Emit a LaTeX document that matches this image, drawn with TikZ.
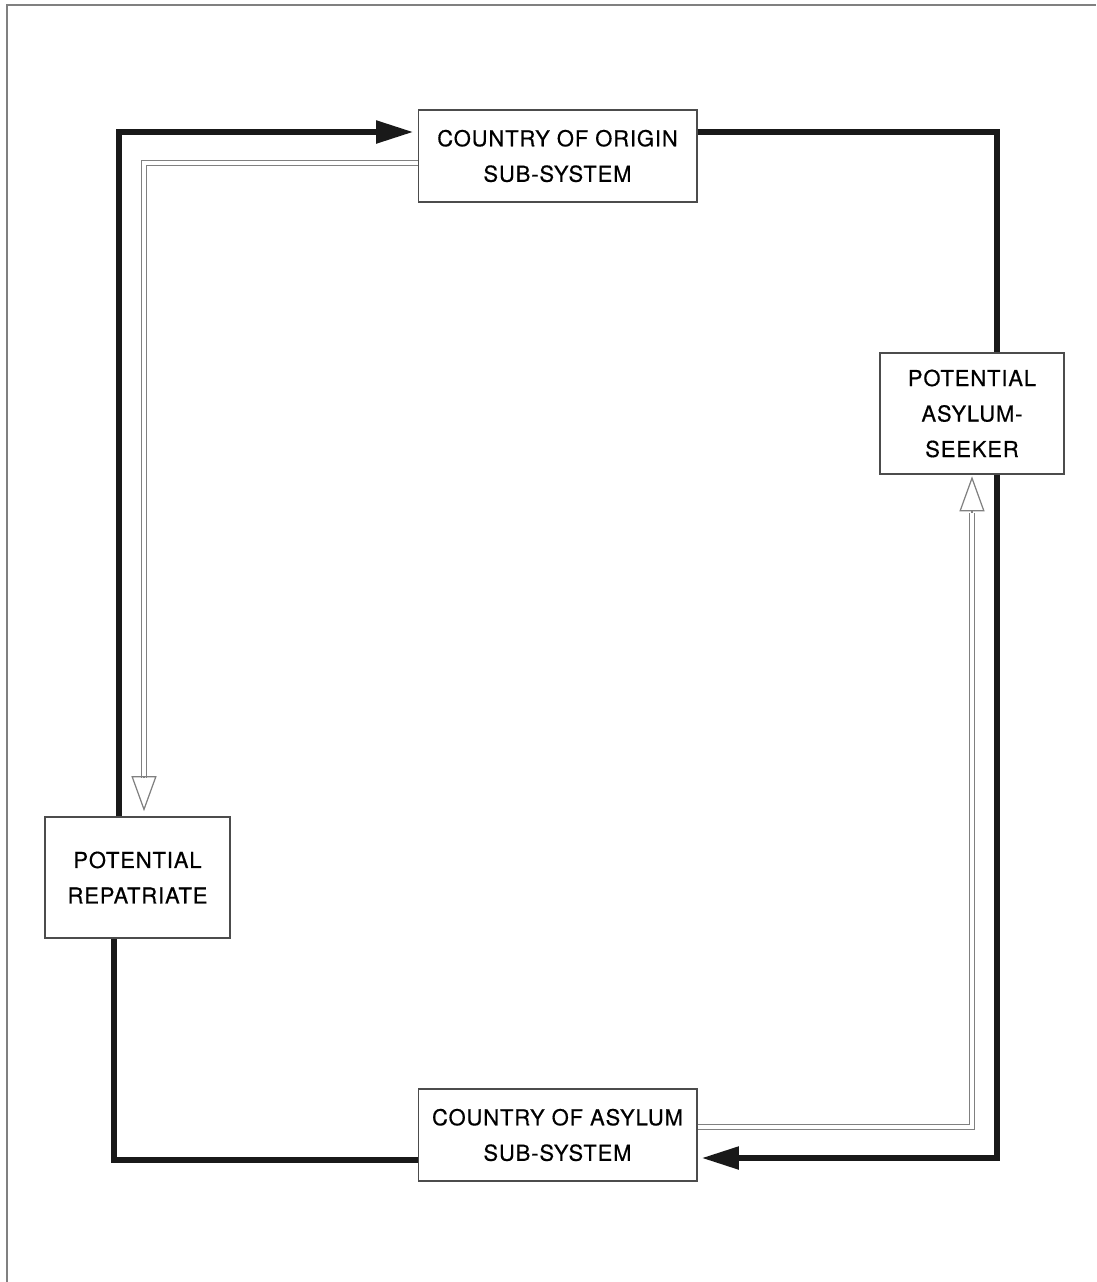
\documentclass[tikz,border=0pt]{standalone}
\usepackage{fontspec}
\setmainfont{TeX Gyre Heros}[LetterSpace=4,FakeBold=0.5]
\usetikzlibrary{arrows.meta}

\begin{document}
\begin{tikzpicture}[x=0.02cm,y=-0.02cm,
	box/.style={draw=black!70, line width=0.6pt, fill=white, align=center, inner sep=0pt,
		font=\fontsize{12.5}{20.2}\selectfont, text=black},
	flow/.style={draw=black!90, line width=3pt},
	flowtip/.style={-{Triangle[length=0.74cm,width=0.44cm]}, shorten >=2.5pt},
	dline/.style={draw=black!50, line width=0.8pt, double=white, double distance=2.2pt},
	hollow/.style={draw=black!50, line width=0.7pt, -{Triangle[open,length=0.7cm,width=0.5cm]}},
	frame/.style={draw=black!50, line width=1.2pt}]

	\useasboundingbox (0,0) rectangle (1096,1282);
	\draw[frame] (7,1282) -- (7,5) -- (1096,5);

	\coordinate (ne) at (997,132);
	\coordinate (se) at (997,1158);
	\coordinate (sw) at (114,1160);
	\coordinate (nw) at (119,132);
	\coordinate (dla) at (144,163);
	\coordinate (dlb) at (972,1127);

	\node[box, minimum width=5.58cm, minimum height=1.84cm] (origin) at (557.5,156) {COUNTRY OF ORIGIN\\SUB-SYSTEM};
	\node[box, minimum width=3.68cm, minimum height=2.42cm] (seeker) at (972,413.5) {POTENTIAL\\ASYLUM-\\SEEKER};
	\node[box, minimum width=3.70cm, minimum height=2.42cm] (repat) at (137.5,877.5) {POTENTIAL\\REPATRIATE};
	\node[box, minimum width=5.58cm, minimum height=1.84cm] (asylum) at (557.5,1135) {COUNTRY OF ASYLUM\\SUB-SYSTEM};

	\draw[flow] (origin.east |- ne) -- (ne) -- (ne |- seeker.north);
	\draw[flow, flowtip] (ne |- seeker.south) -- (se) -- (asylum.east |- se);
	\draw[flow] (asylum.west |- sw) -- (sw) -- (sw |- repat.south);
	\draw[flow, flowtip] (nw |- repat.north) -- (nw) -- (origin.west |- nw);

	\draw[dline] (origin.west |- dla) -- (dla) -- (144,778);
	\draw[hollow, shorten >=3pt] (144,778) -- (repat.north -| dla);
	\draw[dline] (asylum.east |- dlb) -- (dlb) -- (972,513);
	\draw[hollow, shorten >=1pt] (972,513) -- (seeker.south -| dlb);

\end{tikzpicture}
\end{document}
